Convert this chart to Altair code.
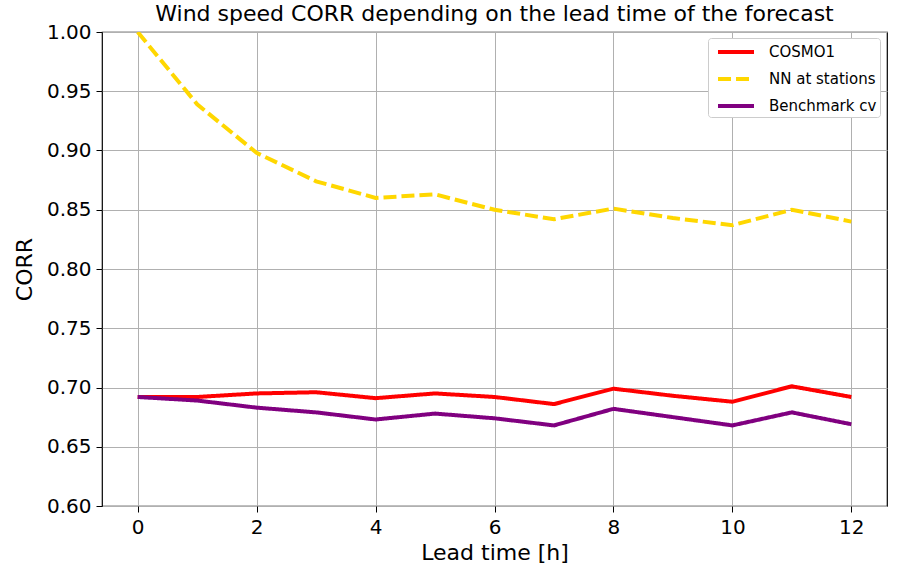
import altair as alt
import pandas as pd

lead = list(range(13))
cosmo1 = [0.692, 0.692, 0.695, 0.696, 0.691, 0.695, 0.692, 0.686, 0.699, 0.693, 0.688, 0.701, 0.692]
nn = [1.000, 0.939, 0.898, 0.874, 0.860, 0.863, 0.850, 0.842, 0.851, 0.843, 0.837, 0.850, 0.840]
bench = [0.692, 0.689, 0.683, 0.679, 0.673, 0.678, 0.674, 0.668, 0.682, 0.675, 0.668, 0.679, 0.669]

series = ["COSMO1", "NN at stations", "Benchmark cv"]
colors = ["#ff0000", "#ffd700", "#800080"]

rows = []
for name, vals in zip(series, [cosmo1, nn, bench]):
    for x, v in zip(lead, vals):
        rows.append({"lead": x, "corr": v, "series": name})
df = pd.DataFrame(rows)

FONT = "DejaVu Sans"

chart = alt.Chart(df).mark_line(strokeWidth=4, clip=True).encode(
    x=alt.X("lead:Q", title="Lead time [h]",
            scale=alt.Scale(domain=[-0.6, 12.6], nice=False, zero=False),
            axis=alt.Axis(values=[0, 2, 4, 6, 8, 10, 12], format="d")),
    y=alt.Y("corr:Q", title="CORR",
            scale=alt.Scale(domain=[0.6, 1.0], nice=False, zero=False),
            axis=alt.Axis(values=[0.6, 0.65, 0.7, 0.75, 0.8, 0.85, 0.9, 0.95, 1.0], format=".2f")),
    color=alt.Color("series:N", scale=alt.Scale(domain=series, range=colors), title=None,
                    legend=alt.Legend(orient="none", legendX=606, legendY=6)),
    strokeDash=alt.StrokeDash("series:N", scale=alt.Scale(domain=series, range=[[1, 0], [13, 5], [1, 0]]),
                              title=None,
                              legend=alt.Legend(orient="none", legendX=606, legendY=6)),
    order=alt.Order("lead:Q"),
).properties(
    width=785, height=474,
    title=alt.TitleParams("Wind speed CORR depending on the lead time of the forecast",
                          font=FONT, fontSize=22, fontWeight="normal", color="black", offset=-4),
    autosize=alt.AutoSizeParams(type="none"),
    padding={"left": 102, "top": 32, "right": 10, "bottom": 61},
).configure_view(
    stroke="black", strokeWidth=1.2
).configure_axis(
    labelFont=FONT, titleFont=FONT, labelFontSize=20, titleFontSize=22,
    titleFontWeight="normal", labelColor="black", titleColor="black",
    gridColor="#b0b0b0", gridWidth=1, domain=False,
    tickColor="black", tickSize=6, labelPadding=5,
).configure_axisX(titlePadding=5).configure_axisY(titlePadding=10).configure_legend(
    labelFont=FONT, labelFontSize=15, labelColor="black",
    symbolType="M-2,0L2,0", symbolStrokeWidth=4, symbolSize=324,
    strokeColor="#cccccc", fillColor="white", cornerRadius=3, padding=3,
    rowPadding=8, symbolOffset=14, labelOffset=22, symbolOpacity=1
)

chart.save("out.html", embed_options={"renderer": "svg", "actions": False})
